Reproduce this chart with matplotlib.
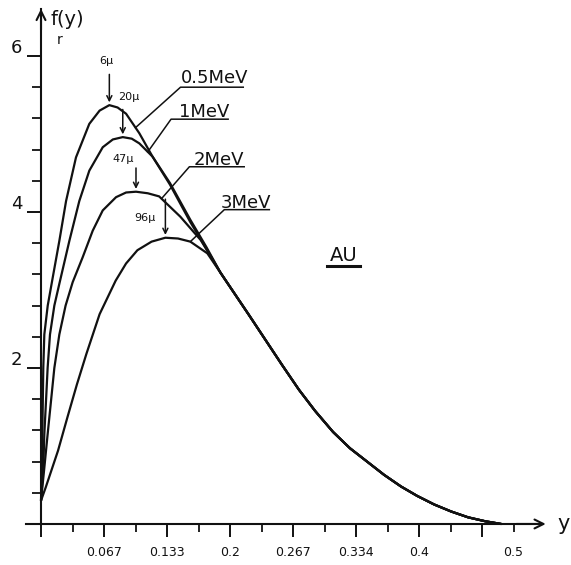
import matplotlib
matplotlib.use('Agg')
import matplotlib.pyplot as plt
import numpy as np

# curves (y = lineal energy, f(y))
x_05 = [0.0, 0.0010, 0.0017, 0.0024, 0.0035, 0.0071, 0.0124, 0.0194, 0.0265, 0.0370,
        0.0511, 0.0620, 0.0723, 0.0810, 0.0900, 0.1040, 0.1180, 0.1365, 0.1580, 0.1750]
y_05 = [0.30, 0.80, 1.40, 2.00, 2.43, 2.80, 3.16, 3.63, 4.14, 4.70,
        5.13, 5.30, 5.37, 5.34, 5.26, 5.01, 4.71, 4.37, 3.90, 3.55]

x_1 = [0.0, 0.0024, 0.0035, 0.0053, 0.0070, 0.0095, 0.0141, 0.0194, 0.0300, 0.0405,
       0.0511, 0.0653, 0.0760, 0.0865, 0.0960, 0.1040, 0.1180, 0.1365, 0.1580, 0.1750]
y_1 = [0.30, 0.72, 1.15, 1.58, 2.00, 2.43, 2.80, 3.08, 3.63, 4.14,
       4.53, 4.83, 4.93, 4.96, 4.94, 4.88, 4.71, 4.35, 3.87, 3.53]

x_2 = [0.0, 0.0035, 0.0070, 0.0106, 0.0141, 0.0194, 0.0260, 0.0335, 0.0441, 0.0547,
       0.0653, 0.0794, 0.0900, 0.1005, 0.1130, 0.1250, 0.1474, 0.1690]
y_2 = [0.30, 0.72, 1.15, 1.58, 2.00, 2.43, 2.80, 3.10, 3.42, 3.76,
       4.02, 4.19, 4.25, 4.26, 4.24, 4.20, 3.94, 3.64]

x_3 = [0.0, 0.0050, 0.0180, 0.0280, 0.0380, 0.0480, 0.0620, 0.0790, 0.0900, 0.1020,
       0.1170, 0.1316, 0.1450, 0.1580, 0.1760]
y_3 = [0.30, 0.47, 0.94, 1.37, 1.79, 2.18, 2.69, 3.12, 3.34, 3.51,
       3.62, 3.67, 3.66, 3.62, 3.47]

# common tail all curves run into
tail_x = [0.190, 0.205, 0.220, 0.2375, 0.255, 0.273, 0.290, 0.309, 0.327, 0.345,
          0.363, 0.381, 0.398, 0.416, 0.434, 0.452, 0.470, 0.487]
tail_y = [3.22, 2.95, 2.68, 2.36, 2.04, 1.72, 1.45, 1.18, 0.97, 0.80,
          0.63, 0.48, 0.36, 0.25, 0.16, 0.085, 0.035, 0.0]

energies = ['0.5MeV', '1MeV', '2MeV', '3MeV']
ranges = ['6μ', '20μ', '47μ', '96μ']

x_tick_labels = ['0.067', '0.133', '0.2', '0.267', '0.334', '0.4', '0.5']
x_tick_label_pos = [0.0667, 0.1333, 0.2, 0.2667, 0.3333, 0.4, 0.5]
y_tick_labels = ['2', '4', '6']
y_tick_label_pos = [2, 4, 6]

curves = [(x_05, y_05), (x_1, y_1), (x_2, y_2), (x_3, y_3)]

# where the labels sit
label_xy = [(0.1476, 5.65), (0.146, 5.22), (0.161, 4.60), (0.190, 4.05)]
underline = [(0.1476, 0.214, 5.60), (0.1376, 0.198, 5.19), (0.157, 0.215, 4.58), (0.194, 0.2416, 4.03)]
leader_x = [0.100, 0.113, 0.1275, 0.158]
range_text_xy = [(0.0695, 5.93), (0.093, 5.47), (0.0865, 4.68), (0.110, 3.92)]
range_arrow_top = [5.80, 5.35, 4.60, 4.20]

ink = '#111111'
fig = plt.figure(figsize=(5.71, 5.65), dpi=100)
ax = fig.add_axes([0, 0, 1, 1])
ax.set_xlim(-0.0434, 0.5608)
ax.set_ylim(-0.526, 6.718)

for cx, cy in curves:
    ax.plot(list(cx) + tail_x, list(cy) + tail_y, color=ink, lw=1.6, solid_capstyle='round')

# axes drawn as arrows through the origin
for s in ['top', 'right']:
    ax.spines[s].set_visible(False)
ax.spines['left'].set_position(('data', 0))
ax.spines['bottom'].set_position(('data', 0))
ax.spines['left'].set_bounds(0, 6.6)
ax.spines['bottom'].set_bounds(-0.016, 0.53)
for s in ['left', 'bottom']:
    ax.spines[s].set_linewidth(1.5)
    ax.spines[s].set_color(ink)
ax.annotate('', xy=(0, 6.64), xytext=(0, 6.3),
            arrowprops=dict(arrowstyle='->', lw=1.5, color=ink, mutation_scale=16))
ax.annotate('', xy=(0.537, 0), xytext=(0.50, 0),
            arrowprops=dict(arrowstyle='->', lw=1.5, color=ink, mutation_scale=16))

ax.set_xticks([i / 15 for i in range(0, 8)])
ax.set_xticks([(2 * i + 1) / 30 for i in range(0, 8)], minor=True)
ax.set_yticks(y_tick_label_pos)
ax.set_yticks([0.4 * i for i in range(1, 16) if i % 5 != 0], minor=True)
ax.tick_params(axis='x', which='major', direction='out', length=9.5, width=1.4, color=ink)
ax.tick_params(axis='x', which='minor', direction='out', length=6, width=1.3, color=ink)
ax.tick_params(axis='y', which='major', direction='out', length=10, width=1.4, color=ink)
ax.tick_params(axis='y', which='minor', direction='out', length=6.5, width=1.3, color=ink)
ax.set_xticklabels([])
ax.set_yticklabels([])

for lab, pos in zip(x_tick_labels, x_tick_label_pos):
    ax.text(pos, -0.37, lab, ha='center', va='center', fontsize=9, color=ink)
for lab, pos in zip(y_tick_labels, y_tick_label_pos):
    ax.text(-0.026, pos + 0.1, lab, ha='center', va='center', fontsize=13, color=ink)

ax.text(0.553, 0.0, 'y', ha='center', va='center', fontsize=15, color=ink)
ax.text(0.028, 6.47, 'f(y)', ha='center', va='center', fontsize=14, color=ink)
ax.text(0.0196, 6.20, 'r', ha='center', va='center', fontsize=10, color=ink)

# energy labels with leader lines
for k, (cx, cy) in enumerate(curves):
    lx = leader_x[k]
    ly = np.interp(lx, list(cx) + tail_x, list(cy) + tail_y)
    u0, u1, uy = underline[k]
    ax.plot([lx, u0, u1], [ly, uy, uy], color=ink, lw=1.1)
    tx, ty = label_xy[k]
    ax.text(tx, ty, energies[k], ha='left', va='baseline', fontsize=13, color=ink)

# range arrows at the peaks
for k, (cx, cy) in enumerate(curves):
    i = int(np.argmax(cy))
    ax.annotate('', xy=(cx[i], cy[i]), xytext=(cx[i], range_arrow_top[k]),
                arrowprops=dict(arrowstyle='->', lw=1.1, color=ink, mutation_scale=9))
    tx, ty = range_text_xy[k]
    ax.text(tx, ty, ranges[k], ha='center', va='center', fontsize=8, color=ink)

ax.text(0.306, 3.37, 'AU', ha='left', va='baseline', fontsize=14, color=ink)
ax.plot([0.303, 0.338], [3.31, 3.31], color=ink, lw=2.2)

fig.savefig('out.png', dpi=100, facecolor='white')
